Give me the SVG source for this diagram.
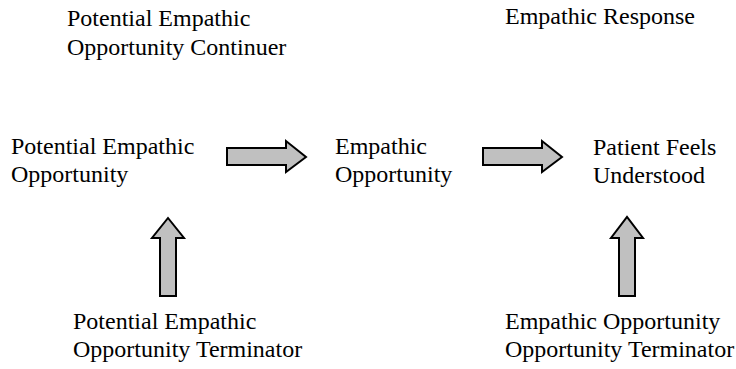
<svg xmlns="http://www.w3.org/2000/svg" width="736" height="369" viewBox="0 0 736 369">
<style>
.t{font-family:'Liberation Serif','Times New Roman',serif;font-size:24px;fill:#000}
.arr{fill:#c0c0c0;stroke:#000;stroke-width:2;stroke-linejoin:miter}
</style>
<rect width="736" height="369" fill="#fff"/>
<g id="n-continuer" class="t"><text x="67" y="26">Potential Empathic</text><text x="67" y="55">Opportunity Continuer</text></g>
<g id="n-response" class="t"><text x="505" y="24">Empathic Response</text></g>
<g id="n-peo" class="t"><text x="11" y="154">Potential Empathic</text><text x="11" y="182">Opportunity</text></g>
<g id="n-eo" class="t"><text x="335" y="154">Empathic</text><text x="335" y="182">Opportunity</text></g>
<g id="n-pfu" class="t"><text x="593" y="155">Patient Feels</text><text x="593" y="183">Understood</text></g>
<g id="n-pet" class="t"><text x="73" y="329">Potential Empathic</text><text x="73" y="357">Opportunity Terminator</text></g>
<g id="n-eot" class="t"><text x="505" y="329">Empathic Opportunity</text><text x="505" y="357">Opportunity Terminator</text></g>
<g id="connectors">
<polygon class="arr" points="227,148 286,148 286,141 306,157 286,172 286,165 227,165"/>
<polygon class="arr" points="483,148 542,148 542,141 562,157 542,172 542,165 483,165"/>
<polygon class="arr" points="160,296 160,238 152,238 168,218 184,238 176,238 176,296"/>
<polygon class="arr" points="619,296 619,238 611,238 627,217 643,238 635,238 635,296"/>
</g>
</svg>
